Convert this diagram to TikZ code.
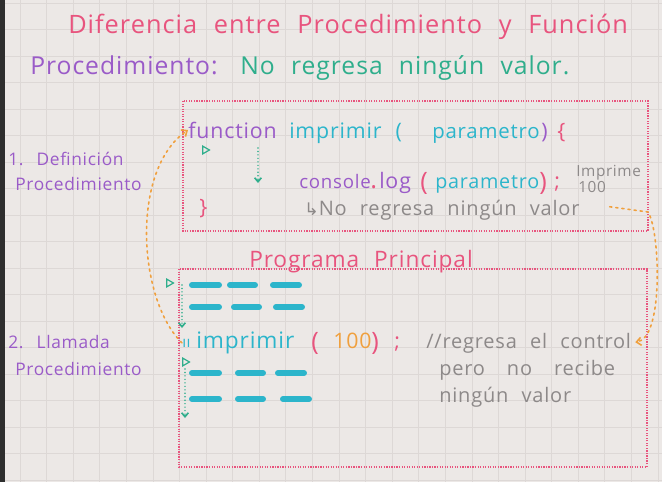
\documentclass[tikz,border=0pt]{standalone}
\usepackage{fontspec}
\setmainfont{Open Sans}
\newfontfamily\hand[LetterSpace=4,WordSpace=2.2]{Open Sans}
\newfontfamily\symf{DejaVu Sans}
\usetikzlibrary{arrows.meta,shapes.geometric}

\definecolor{paper}{HTML}{ECE8E6}
\definecolor{gridc}{HTML}{DDD8D6}
\definecolor{notepink}{HTML}{E8547E}
\definecolor{notepurple}{HTML}{9A5BC8}
\definecolor{notegreen}{HTML}{2FAE8C}
\definecolor{notecyan}{HTML}{2CB5CB}
\definecolor{notegray}{HTML}{8D8989}
\definecolor{noteorange}{HTML}{F0A03E}

\tikzset{
  txt/.style={inner sep=0pt, anchor=base west},
  fbig/.style={font=\hand\fontsize{19}{19}\selectfont},
  fmid/.style={font=\hand\fontsize{18.5}{18.5}\selectfont},
  fhead/.style={font=\hand\fontsize{17}{17}\selectfont},
  fcode/.style={font=\hand\fontsize{16}{16}\selectfont},
  fparen/.style={font=\hand\fontsize{19}{19}\selectfont},
  fnote/.style={font=\hand\fontsize{13}{13}\selectfont},
  fgray/.style={font=\hand\fontsize{15}{15}\selectfont},
  fsmall/.style={font=\hand\fontsize{11.5}{11.5}\selectfont},
  dotbox/.style={notepink, line width=0.9pt, dash pattern=on 0.9pt off 1pt},
  tri/.style={draw=notegreen, line width=0.9pt, isosceles triangle,
    isosceles triangle apex angle=60, inner sep=0pt, minimum size=5pt},
  gdot/.style={notegreen, line width=1.2pt, dash pattern=on 0pt off 2.6pt,
    line cap=round, -{Straight Barb[length=3pt,width=5pt]}},
  orgline/.style={noteorange, line width=1.2pt, dash pattern=on 1.6pt off 3pt,
    line cap=round},
  bar/.style={notecyan, line width=4.5pt, line cap=round}
}

\begin{document}
\begin{tikzpicture}[x=0.75pt, y=-0.75pt]
\useasboundingbox (0,0) rectangle (662,482);
% paper
\fill[paper] (0,0) rectangle (662,482);
\foreach \i in {0,...,24}
  \draw[gridc, line width=0.5pt] (20+26.58*\i,0) -- (20+26.58*\i,482);
\foreach \j in {0,...,18}
  \draw[gridc, line width=0.5pt] (0,3+26.5*\j) -- (662,3+26.5*\j);
\fill[black!82] (0,0) rectangle (5,482);

% headings
\node[txt, fbig, text=notepink] (title) at (68,33) {Diferencia entre Procedimiento y Función};
\node[txt, fmid, text=notepurple] (proc) at (30,74) {Procedimiento:};
\node[txt, fmid, text=notegreen] (noval) at (240,74) {No regresa ningún valor.};

% 1. definicion
\node[txt, fnote, text=notepurple] (def1) at (8,165) {1. Definición};
\node[txt, fnote, text=notepurple] (proc1) at (15,190) {Procedimiento};
\draw[dotbox] (183,101) rectangle (648,231);

\node[txt, fcode, text=notepurple] (fn) at (188,138) {function};
\node[txt, fcode, text=notecyan] (fname) at (289,138) {imprimir (};
\node[txt, font=\hand\fontsize{15.3}{15.3}\selectfont, text=notecyan] (fpar) at (432,138) {parametro};
\node[txt, fcode, text=notepurple] (fclose) at (541,138) {)};
\node[txt, fcode, text=notepink] (fopen) at (557,138) {\{};
\node[tri] (tri1) at (205,150) {};
\coordinate (d1a) at (258,148);
\coordinate (d1b) at (258,183);
\draw[gdot] (d1a) -- (d1b);
\node[txt, fcode, text=notepink] (fend) at (199,214) {\}};

\node[txt, font=\hand\fontsize{14}{14}\selectfont, text=notepurple] (cons) at (299,188) {console};
\node[txt, fparen, text=notepink] (cdot) at (370,188) {.};
\node[txt, fcode, text=notepurple] (clog) at (379,188) {log};
\node[txt, fparen, text=notepink] (copen) at (420,190) {(};
\node[txt, font=\hand\fontsize{14.8}{14.8}\selectfont, text=notecyan] (cpar) at (435,188) {parametro};
\node[txt, fparen, text=notepink] (cclose) at (539,190) {)};
\node[txt, fcode, text=notepink] (csemi) at (554,188) {;};
\node[txt, fsmall, text=notegray] (impr) at (576,176) {Imprime};
\node[txt, fsmall, text=notegray] (cien) at (578,192) {100};
\node[txt, fgray, text=notegray] (novalor) at (304,215) {{\symf\fontsize{13}{13}\selectfont ↳}No regresa ningún valor};

% programa principal
\draw[dotbox] (179,269) rectangle (647,467);
\node[txt, fhead, text=notepink] (prog) at (249,267) {Programa Principal};
\node[tri] (tri2) at (169,283) {};
\coordinate (d2a) at (182,285);
\coordinate (d2b) at (182,328);
\draw[gdot] (d2a) -- (d2b);
\foreach \y/\a/\b/\c in {285/192/230/273, 307/192/234/276, 373/192/238/278, 399/192/238/283}
  \draw[bar] (\a,\y) -- ++(27,0) (\b,\y) -- ++(25,0) (\c,\y) -- ++(26,0);

% 2. llamada
\node[txt, fnote, text=notepurple] (def2) at (8,348) {2. Llamada};
\node[txt, fnote, text=notepurple] (proc2) at (15,375) {Procedimiento};
\node[txt, fsmall, text=notecyan] (callmark) at (182,347) {ıı};
\node[txt, font=\hand\fontsize{17}{17}\selectfont, text=notecyan] (call) at (196,348) {imprimir};
\node[txt, fparen, text=notepink] (popen) at (311,350) {(};
\node[txt, fcode, text=noteorange] (arg) at (333,348) {100};
\node[txt, fparen, text=notepink] (pclose) at (371,350) {)};
\node[txt, fcode, text=notepink] (psemi) at (394,348) {;};
\node[txt, fgray, text=notegray] (ctrl) at (426,348) {//regresa el control};
\node[txt, fgray, text=notegray] (pero) at (439,375) {pero\hspace{1.1em}no\hspace{1.1em}recibe};
\node[txt, fgray, text=notegray] (ningun) at (439,402) {ningún valor};
\node[tri] (tri3) at (185,362) {};
\coordinate (d3a) at (185,369);
\coordinate (d3b) at (185,418);
\draw[gdot] (d3a) -- (d3b);

% flujo de control
\draw[orgline, -{Straight Barb[length=3.5pt,width=6pt]}] (callmark.west)
  .. controls (138,300) and (130,170) .. (fn.west);
\coordinate (rbend) at (648,212);
\draw[orgline, shorten >=3pt, -{Straight Barb[length=3.5pt,width=6pt]}] (novalor.east)
  ++(30,-3) -- (rbend) .. controls (660,230) and (664,338) .. (ctrl.east);
\end{tikzpicture}
\end{document}
